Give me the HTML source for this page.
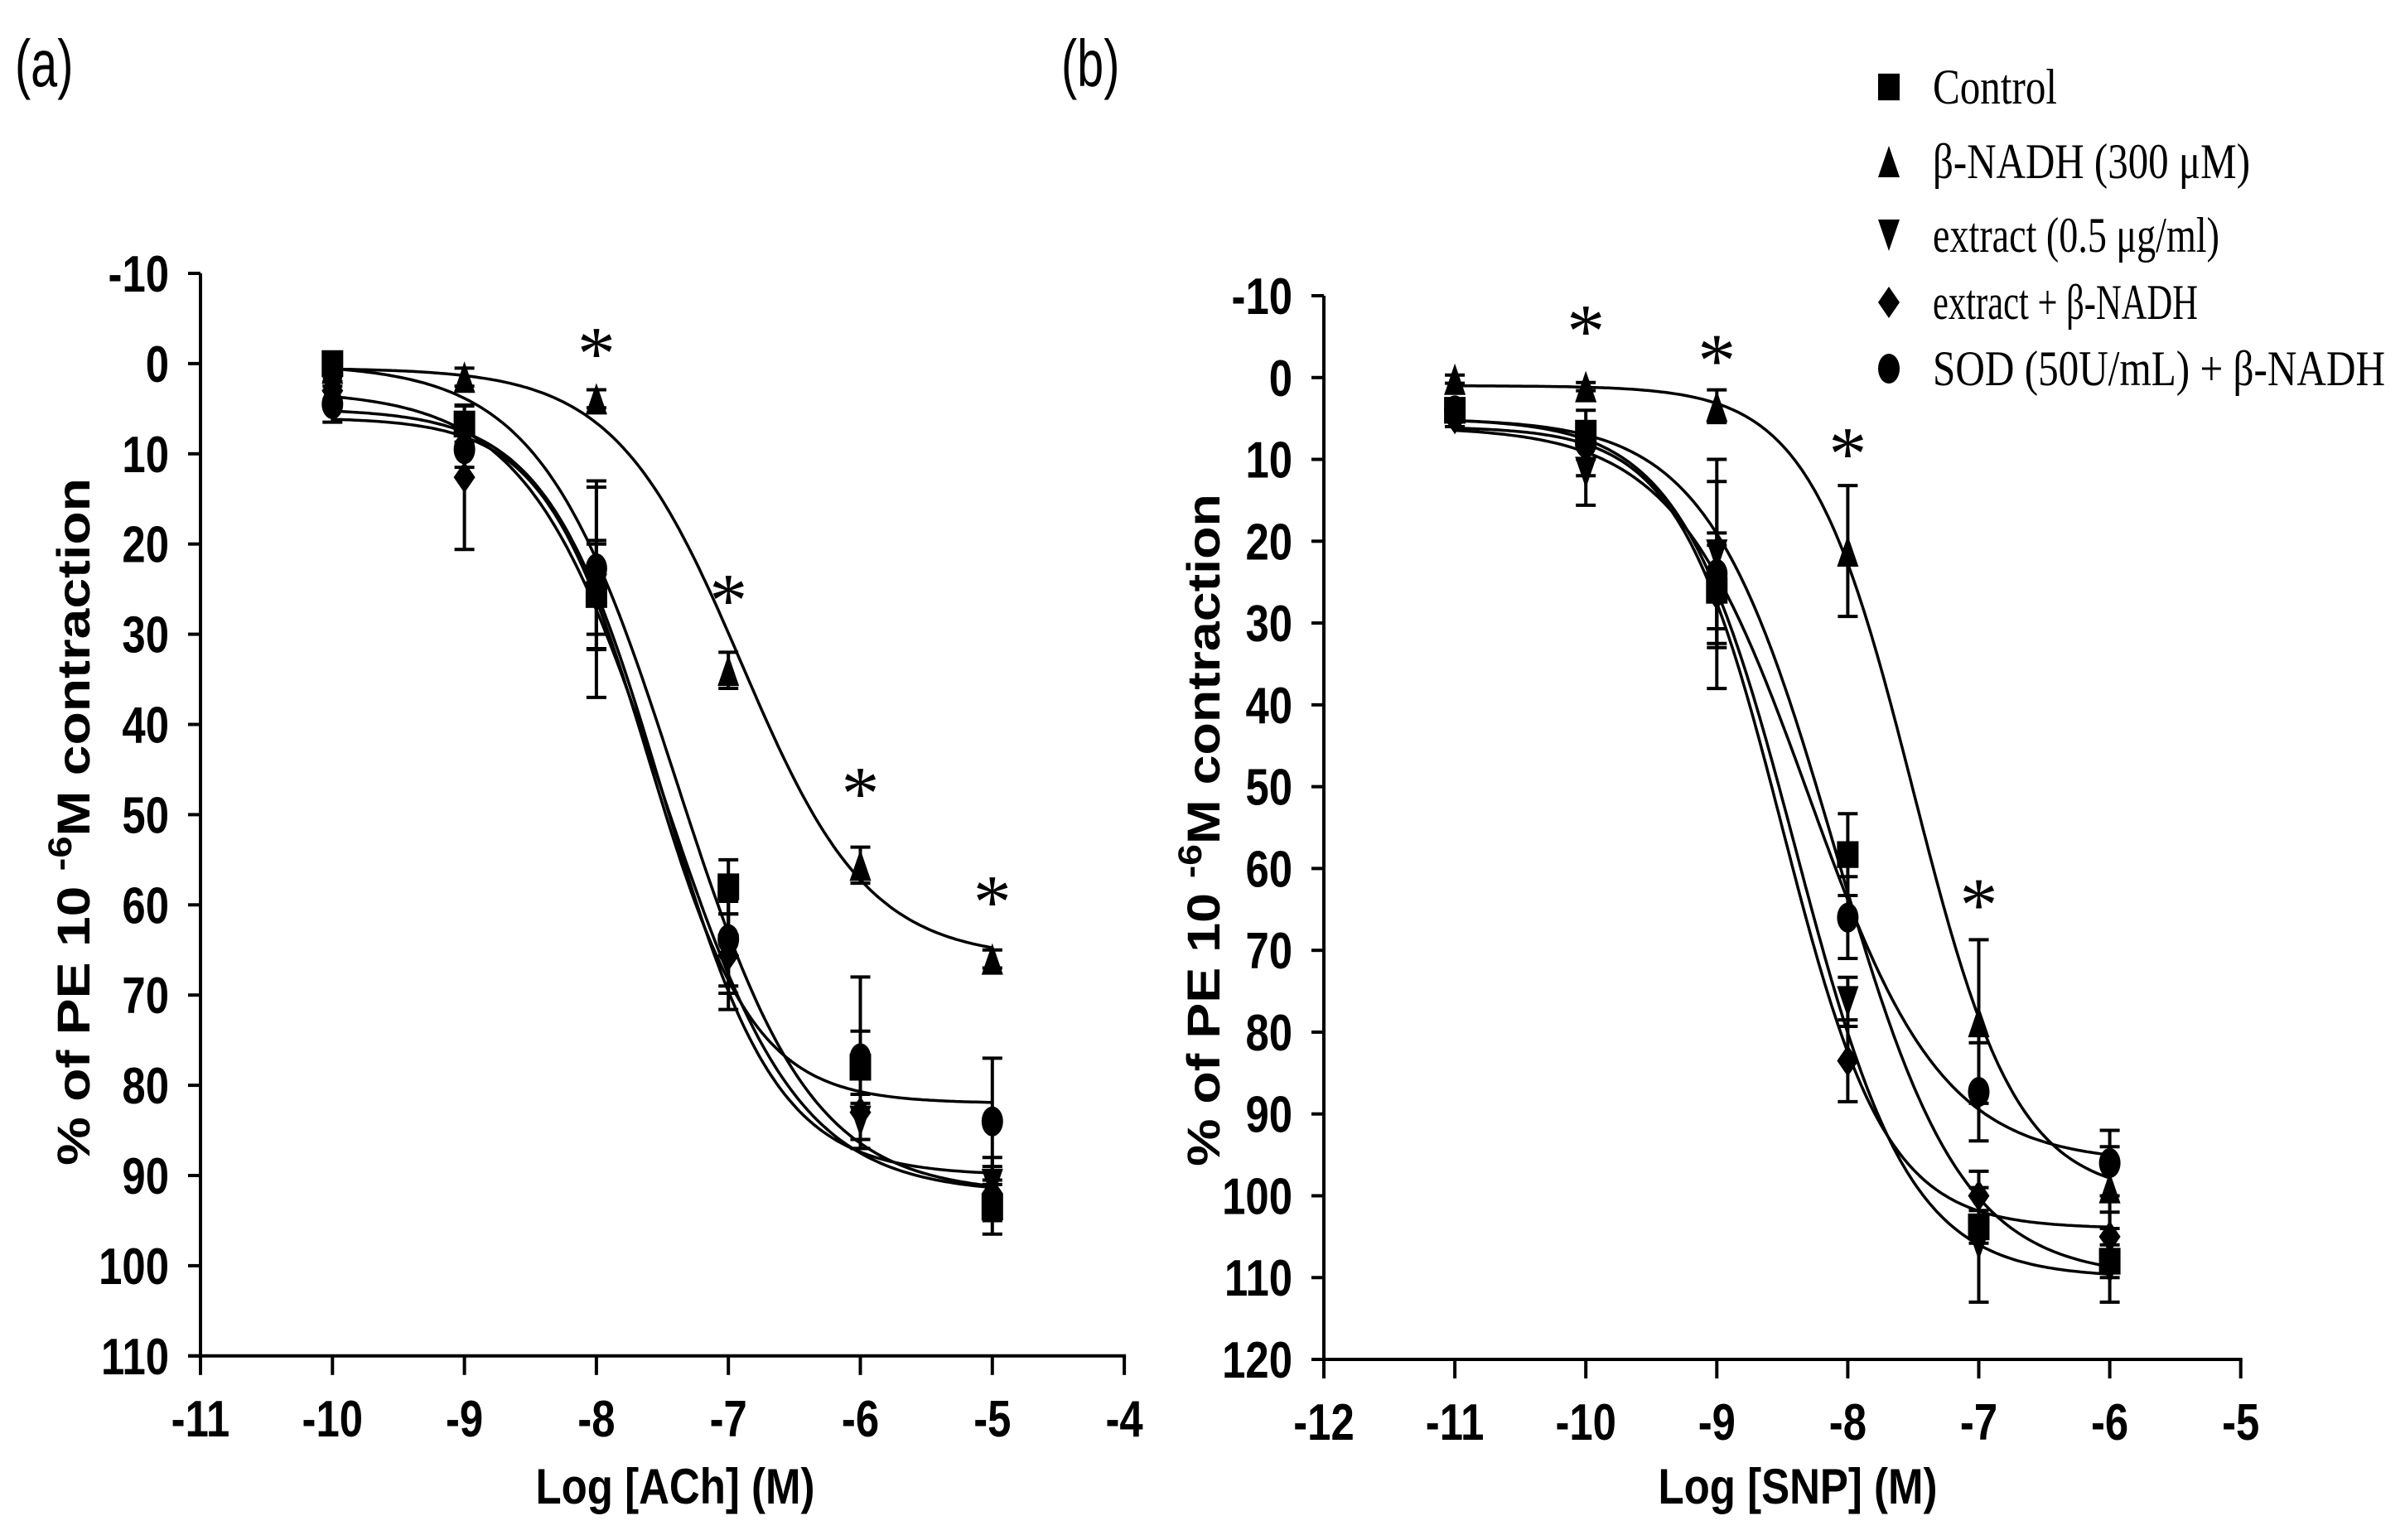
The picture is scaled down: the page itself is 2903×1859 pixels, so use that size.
<!DOCTYPE html>
<html><head><meta charset="utf-8"><style>
html,body{margin:0;padding:0;background:#fff;}
svg{display:block;}
</style></head><body>
<svg id="fig" width="2903" height="1859" viewBox="0 0 2903 1859" xmlns="http://www.w3.org/2000/svg">
<rect width="2903" height="1859" fill="#fff"/>
<g id="panelA"></g>
<g id="panelB"></g>
<g id="legend"></g>
</svg>
<script>
// ---- Panel A data (Log [ACh]) ----
const doseA = [-10, -9, -8, -7, -6, -5];
const controlA = [0, 6.7, 25.6, 58, 78, 93.5];
const nadhA = [0.5, 1.5, 3.9, 34, 55.6, 66];
const extractA = [3, 8, 25, 65, 84, 91];
const extNadhA = [3, 12.6, 25, 65.6, 83, 92];
const sodA = [4.5, 9.5, 22.7, 63.8, 77, 84];
const errControlA = [1, 2, 6, 3, 4, 3];
const errNadhA = [0.5, 1, 1, 2, 2, 1];
const errExtractA = [1, 2, 5, 4, 3, 3];
const errExtNadhA = [1, 8, 12, 6, 4, 3];
const errSodA = [2, 2, 9, 6, 9, 7];
// fit params: [top, bottom, logEC50, hill]
const fitControlA = [0, 92, -7.4, 0.85];
const fitNadhA = [0.5, 66, -6.9, 0.9];
const fitExtractA = [3, 92, -7.5, 0.85];
const fitExtNadhA = [5, 90, -7.5, 1.0];
const fitSodA = [6, 82, -7.6, 1.1];
const starDoseA = [-8, -7, -6, -5];
const starValA = [-1.8, 25.6, 47, 59];
const xTicksA = [-11, -10, -9, -8, -7, -6, -5, -4];
const yTicksA = [-10, 0, 10, 20, 30, 40, 50, 60, 70, 80, 90, 100, 110];

// ---- Panel B data (Log [SNP]) ----
const doseB = [-11, -10, -9, -8, -7, -6];
const controlB = [4, 6.8, 26, 58.3, 103.8, 108];
const nadhB = [0.2, 1.1, 3.5, 21.2, 78.7, 99];
const extractB = [5, 11.6, 21.7, 76.3, 106, 109];
const extNadhB = [5, 8, 26.5, 83.5, 100, 105];
const sodB = [4, 8, 24, 66, 87.3, 96];
const errControlB = [1, 1, 7, 5, 2, 2];
const errNadhB = [0.5, 0.5, 2, 8, 10, 5];
const errExtractB = [1, 4, 9, 3, 7, 4];
const errExtNadhB = [1, 2, 6, 5, 3, 3];
const errSodB = [1, 4, 14, 5, 6, 4];
const fitControlB = [5, 110, -8.1, 0.9];
const fitNadhB = [1, 100, -7.5, 1.1];
const fitExtractB = [5, 110, -8.4, 1.0];
const fitExtNadhB = [6, 104, -8.5, 1.1];
const fitSodB = [6, 96, -8.3, 0.85];
const starDoseB = [-10, -9, -8, -7];
const starValB = [-6.4, -2.8, 8.6, 63.7];
const xTicksB = [-12, -11, -10, -9, -8, -7, -6, -5];
const yTicksB = [-10, 0, 10, 20, 30, 40, 50, 60, 70, 80, 90, 100, 110, 120];

const legendLabels = ["Control", "β-NADH (300 μM)", "extract (0.5  μg/ml)", "extract + β-NADH", "SOD (50U/mL) + β-NADH"];
const markerTypes = ["square", "tri-up", "tri-down", "diamond", "circle"];

const NS = "http://www.w3.org/2000/svg";
function mk(tag, attrs, parent) {
  const e = document.createElementNS(NS, tag);
  for (const k in attrs) e.setAttribute(k, attrs[k]);
  parent.appendChild(e);
  return e;
}
function squeeze(t, sx) {
  const x = +t.getAttribute('x'), y = +t.getAttribute('y');
  t.setAttribute('transform', `translate(${x},${y}) scale(${sx},1) translate(${-x},${-y})`);
}
function marker(g, type, cx, cy) {
  const w = 13, h = 19;
  let e;
  if (type === 'square') e = mk('rect', {x: cx - w, y: cy - h * 0.85, width: 2 * w, height: 1.7 * h, fill: '#000'}, g);
  else if (type === 'tri-up') e = mk('polygon', {points: `${cx},${cy - h} ${cx - w},${cy + h} ${cx + w},${cy + h}`, fill: '#000'}, g);
  else if (type === 'tri-down') e = mk('polygon', {points: `${cx},${cy + h} ${cx - w},${cy - h} ${cx + w},${cy - h}`, fill: '#000'}, g);
  else if (type === 'diamond') e = mk('polygon', {points: `${cx},${cy - h} ${cx + w},${cy} ${cx},${cy + h} ${cx - w},${cy}`, fill: '#000'}, g);
  else e = mk('ellipse', {cx: cx, cy: cy, rx: w, ry: h * 0.95, fill: '#000'}, g);
  return e;
}

function drawPanel(g, cfg) {
  const X = v => cfg.x0 + (v - cfg.xmin) * cfg.xs;
  const Y = v => cfg.y0 + (v - cfg.ymin) * cfg.ys;
  const xAxisY = Y(cfg.ymax), yAxisX = X(cfg.xmin);
  const ax = mk('g', {}, g);
  
  
  const yl = mk('line', {x1: yAxisX, y1: Y(cfg.ymin), x2: yAxisX, y2: xAxisY, stroke: '#000', 'stroke-width': 4}, ax);
  
  
  const xl = mk('line', {x1: yAxisX - 15, y1: xAxisY, x2: X(cfg.xmax) + 2, y2: xAxisY, stroke: '#000', 'stroke-width': 4}, ax);
  
  
  cfg.yTicks.forEach(v => {
    mk('line', {x1: yAxisX - 15, y1: Y(v), x2: yAxisX, y2: Y(v), stroke: '#000', 'stroke-width': 4}, ax);
    const t = mk('text', {x: yAxisX - 38, y: Y(v) + 22, 'text-anchor': 'end', 'font-family': 'Liberation Sans, Arial, sans-serif', 'font-weight': 'bold', 'font-size': 62}, ax);
    t.textContent = v;
    
    
    squeeze(t, 0.82);
  });
  cfg.xTicks.forEach(v => {
    mk('line', {x1: X(v), y1: xAxisY, x2: X(v), y2: xAxisY + 23, stroke: '#000', 'stroke-width': 4}, ax);
    const t = mk('text', {x: X(v), y: xAxisY + 97, 'text-anchor': 'middle', 'font-family': 'Liberation Sans, Arial, sans-serif', 'font-weight': 'bold', 'font-size': 62}, ax);
    t.textContent = v;
    
    
    squeeze(t, 0.82);
  });
  const xt = mk('text', {x: cfg.xTitleX, y: 1815, 'text-anchor': 'middle', 'font-family': 'Liberation Sans, Arial, sans-serif', 'font-weight': 'bold', 'font-size': 60}, g);
  xt.textContent = cfg.xTitle;
  
  
  squeeze(xt, 0.85);
  const yt = mk('text', {x: 0, y: 0, 'text-anchor': 'middle', 'font-family': 'Liberation Sans, Arial, sans-serif', 'font-weight': 'bold', 'font-size': 56}, g);
  
  
  const s1 = mk('tspan', {}, yt); s1.textContent = '% of PE 10 ';
  const s2 = mk('tspan', {dy: -22, 'font-size': 40}, yt); s2.textContent = '-6';
  const s3 = mk('tspan', {dy: 22}, yt); s3.textContent = 'M contraction';
  const w = yt.getComputedTextLength ? yt.getComputedTextLength() : 900;
  yt.setAttribute('transform', `translate(${cfg.yTitleX},${cfg.yTitleCY}) rotate(-90) scale(${cfg.yTitleLen / w},1)`);
  cfg.series.forEach((s, si) => {
    const sg = mk('g', {}, g);
    
    
    const [top, bot, ec, hill] = s.fit;
    let d = '';
    const a = cfg.dose[0], b = cfg.dose[cfg.dose.length - 1];
    for (let i = 0; i <= 200; i++) {
      const lx = a + (b - a) * i / 200;
      const v = top + (bot - top) / (1 + Math.pow(10, hill * (ec - lx)));
      d += (i ? 'L' : 'M') + X(lx).toFixed(1) + ',' + Y(v).toFixed(1);
    }
    const c = mk('path', {d: d, fill: 'none', stroke: '#000', 'stroke-width': 3.5}, sg);
    
    
    cfg.dose.forEach((dx, i) => {
      const v = s.vals[i], e = s.err[i];
      const eb = mk('path', {d: `M${X(dx)},${Y(v - e)}V${Y(v + e)}M${X(dx) - 12},${Y(v - e)}h24M${X(dx) - 12},${Y(v + e)}h24`, stroke: '#000', 'stroke-width': 4, fill: 'none'}, sg);
      
      
      const m = marker(sg, markerTypes[si], X(dx), Y(v));
      
      
    });
  });
  cfg.starDose.forEach((dx, i) => {
    const t = mk('text', {x: X(dx), y: Y(cfg.starVal[i]) + 38, 'text-anchor': 'middle', 'font-family': 'Liberation Serif, serif', 'font-size': 92}, g);
    t.textContent = '*';
    
    
  });
  const pl = mk('text', {x: cfg.labelX, y: 104, 'font-family': 'Liberation Sans, Arial, sans-serif', 'font-size': 80}, g);
  pl.textContent = cfg.label;
  
  
  squeeze(pl, 0.72);
}

drawPanel(document.getElementById('panelA'), {
  x0: 242, xmin: -11, xmax: -4, xs: 159.3, y0: 330, ymin: -10, ymax: 110, ys: 10.89,
  xTicks: xTicksA, yTicks: yTicksA, dose: doseA,
  xTitle: 'Log [ACh] (M)', xTitleX: 815, yTitleX: 108, yTitleCY: 992, yTitleLen: 830,
  label: '(a)', labelX: 18, starDose: starDoseA, starVal: starValA,
  series: [
    {name: 'control', vals: controlA, err: errControlA, fit: fitControlA},
    {name: 'nadh', vals: nadhA, err: errNadhA, fit: fitNadhA},
    {name: 'extract', vals: extractA, err: errExtractA, fit: fitExtractA},
    {name: 'extract-nadh', vals: extNadhA, err: errExtNadhA, fit: fitExtNadhA},
    {name: 'sod-nadh', vals: sodA, err: errSodA, fit: fitSodA}
  ]
});
drawPanel(document.getElementById('panelB'), {
  x0: 1598, xmin: -12, xmax: -5, xs: 158.1, y0: 357, ymin: -10, ymax: 120, ys: 9.877,
  xTicks: xTicksB, yTicks: yTicksB, dose: doseB,
  xTitle: 'Log [SNP] (M)', xTitleX: 2170, yTitleX: 1472, yTitleCY: 1002, yTitleLen: 812,
  label: '(b)', labelX: 1281, starDose: starDoseB, starVal: starValB,
  series: [
    {name: 'control', vals: controlB, err: errControlB, fit: fitControlB},
    {name: 'nadh', vals: nadhB, err: errNadhB, fit: fitNadhB},
    {name: 'extract', vals: extractB, err: errExtractB, fit: fitExtractB},
    {name: 'extract-nadh', vals: extNadhB, err: errExtNadhB, fit: fitExtNadhB},
    {name: 'sod-nadh', vals: sodB, err: errSodB, fit: fitSodB}
  ]
});

const lg = document.getElementById('legend');
const legendY = [105, 195, 284, 365, 445];
const legendW = [150, 383, 346, 320, 546];
legendLabels.forEach((lab, i) => {
  const eg = mk('g', {}, lg);
  
  
  const m = marker(eg, markerTypes[i], 2280, legendY[i]);
  
  
  const t = mk('text', {x: 2333, y: legendY[i] + 20, 'font-family': 'Liberation Serif, Times New Roman, serif', 'font-size': 60, textLength: legendW[i], lengthAdjust: 'spacingAndGlyphs'}, eg);
  t.textContent = lab;
  
  
});
</script>
</body></html>
